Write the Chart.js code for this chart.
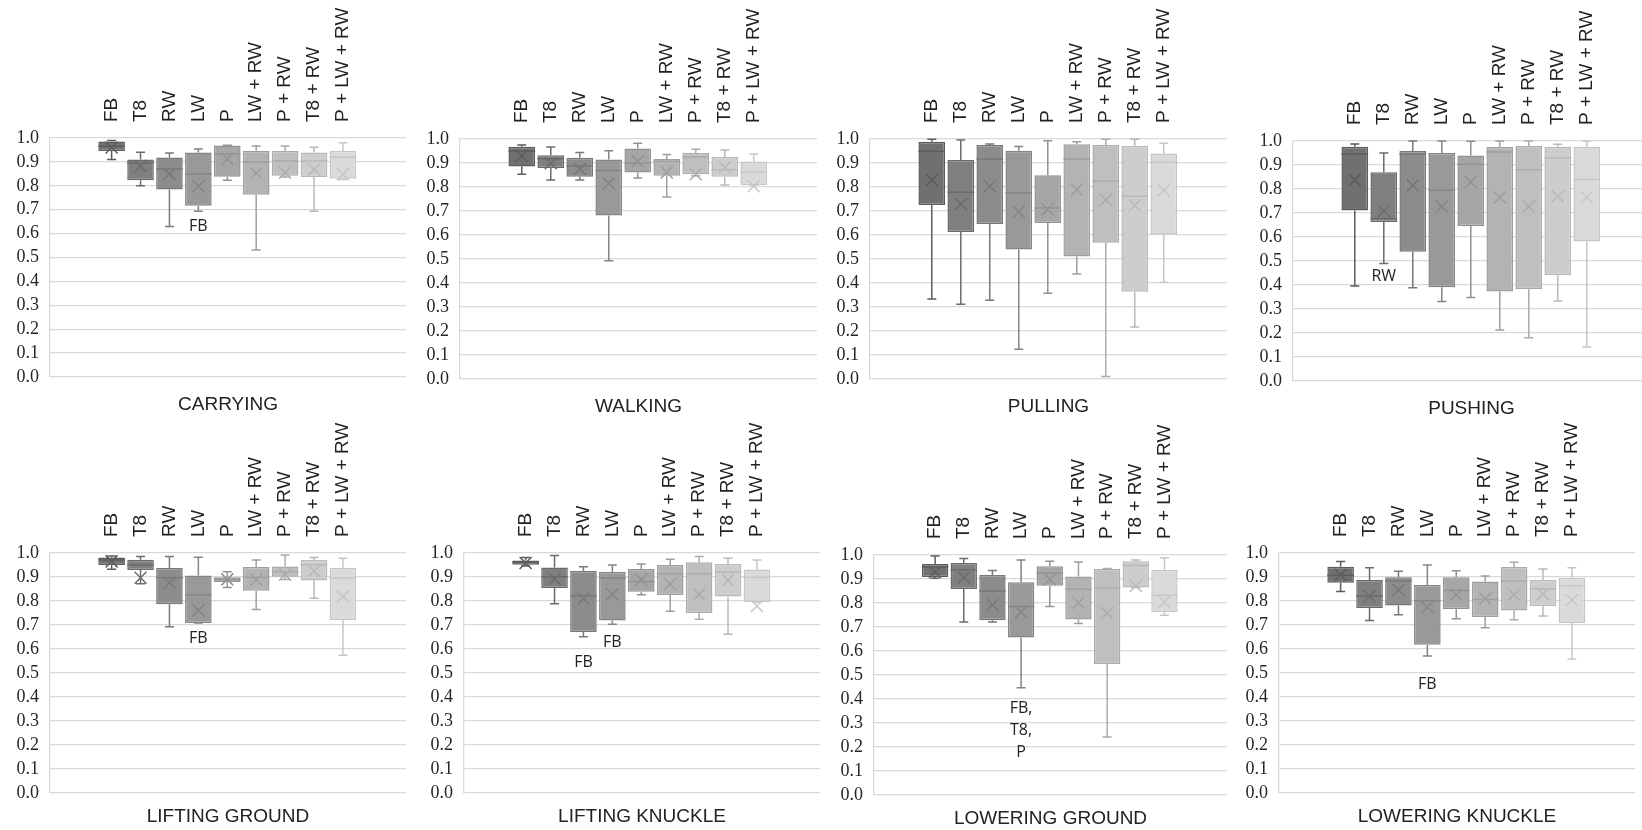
<!DOCTYPE html>
<html>
<head>
<meta charset="utf-8">
<script src="https://cdn.jsdelivr.net/npm/chart.js@4.4.1/dist/chart.umd.min.js"></script>
<style>
  html, body { margin: 0; padding: 0; background: #fff; overflow: hidden; }
  body { width: 1642px; height: 830px; position: relative; }
  canvas { position: absolute; }
</style>
</head>
<body>
<script>
// sensor configurations, one box per configuration
const sensors = ['FB', 'T8', 'RW', 'LW', 'P', 'LW + RW', 'P + RW', 'T8 + RW', 'P + LW + RW'];
const tasks = ['CARRYING', 'WALKING', 'PULLING', 'PUSHING',
  'LIFTING GROUND', 'LIFTING KNUCKLE', 'LOWERING GROUND', 'LOWERING KNUCKLE'];
const yTicks = [0.0, 0.1, 0.2, 0.3, 0.4, 0.5, 0.6, 0.7, 0.8, 0.9, 1.0];

// one row per task, one column per sensor
const whiskerLow = [
  [0.910, 0.800, 0.630, 0.693, 0.823, 0.531, 0.837, 0.693, 0.826],
  [0.853, 0.829, 0.829, 0.493, 0.838, 0.758, 0.847, 0.808, 0.808],
  [0.333, 0.311, 0.328, 0.124, 0.357, 0.437, 0.010, 0.217, 0.403],
  [0.396, 0.490, 0.389, 0.331, 0.348, 0.212, 0.180, 0.333, 0.142],
  [0.932, 0.872, 0.693, 0.708, 0.856, 0.765, 0.890, 0.811, 0.574],
  [0.946, 0.789, 0.651, 0.703, 0.826, 0.757, 0.724, 0.661, 0.796],
  [0.903, 0.721, 0.721, 0.447, 0.785, 0.715, 0.242, 0.865, 0.749],
  [0.840, 0.719, 0.743, 0.571, 0.726, 0.689, 0.722, 0.738, 0.558]
];
const quartile1 = [
  [0.946, 0.823, 0.785, 0.717, 0.838, 0.763, 0.842, 0.837, 0.830],
  [0.885, 0.879, 0.843, 0.681, 0.860, 0.847, 0.853, 0.843, 0.808],
  [0.725, 0.612, 0.646, 0.540, 0.650, 0.510, 0.568, 0.364, 0.603],
  [0.710, 0.663, 0.539, 0.391, 0.646, 0.373, 0.382, 0.441, 0.581],
  [0.950, 0.929, 0.786, 0.708, 0.879, 0.843, 0.901, 0.885, 0.721],
  [0.951, 0.854, 0.671, 0.719, 0.839, 0.825, 0.750, 0.819, 0.796],
  [0.908, 0.858, 0.728, 0.656, 0.872, 0.731, 0.546, 0.865, 0.763],
  [0.876, 0.771, 0.781, 0.618, 0.767, 0.733, 0.760, 0.778, 0.708]
];
const medians = [
  [0.965, 0.895, 0.870, 0.849, 0.933, 0.900, 0.904, 0.904, 0.919],
  [0.950, 0.918, 0.888, 0.869, 0.899, 0.907, 0.925, 0.872, 0.861],
  [0.949, 0.778, 0.917, 0.776, 0.712, 0.917, 0.824, 0.761, 0.903],
  [0.946, 0.677, 0.946, 0.795, 0.903, 0.954, 0.880, 0.929, 0.840],
  [0.971, 0.951, 0.897, 0.826, 0.890, 0.899, 0.922, 0.951, 0.896],
  [0.961, 0.901, 0.822, 0.896, 0.881, 0.914, 0.914, 0.921, 0.899],
  [0.950, 0.939, 0.850, 0.785, 0.924, 0.857, 0.864, 0.956, 0.832],
  [0.907, 0.821, 0.883, 0.801, 0.844, 0.806, 0.882, 0.851, 0.864]
];
const quartile3 = [
  [0.985, 0.910, 0.918, 0.939, 0.969, 0.947, 0.946, 0.939, 0.946],
  [0.968, 0.932, 0.922, 0.915, 0.960, 0.917, 0.942, 0.925, 0.906],
  [0.989, 0.912, 0.975, 0.951, 0.849, 0.978, 0.975, 0.972, 0.940],
  [0.976, 0.870, 0.958, 0.950, 0.940, 0.975, 0.979, 0.976, 0.975],
  [0.981, 0.972, 0.938, 0.906, 0.899, 0.942, 0.944, 0.971, 0.939],
  [0.969, 0.940, 0.925, 0.921, 0.933, 0.950, 0.961, 0.954, 0.931],
  [0.963, 0.967, 0.917, 0.886, 0.953, 0.910, 0.942, 0.974, 0.939],
  [0.943, 0.888, 0.899, 0.867, 0.899, 0.881, 0.942, 0.888, 0.897]
];
const whiskerHigh = [
  [0.990, 0.940, 0.937, 0.954, 0.970, 0.967, 0.967, 0.961, 0.980],
  [0.975, 0.967, 0.944, 0.951, 0.982, 0.935, 0.957, 0.954, 0.937],
  [0.999, 0.996, 0.979, 0.969, 0.993, 0.989, 0.999, 0.999, 0.982],
  [0.987, 0.950, 1.000, 1.000, 0.999, 1.000, 1.000, 0.986, 1.000],
  [0.988, 0.985, 0.985, 0.982, 0.922, 0.971, 0.992, 0.981, 0.978],
  [0.981, 0.990, 0.943, 0.950, 0.954, 0.974, 0.985, 0.978, 0.971],
  [0.996, 0.985, 0.935, 0.979, 0.974, 0.971, 0.944, 0.979, 0.989],
  [0.965, 0.939, 0.924, 0.950, 0.926, 0.904, 0.961, 0.933, 0.939]
];
const means = [
  [0.960, 0.883, 0.850, 0.798, 0.912, 0.853, 0.856, 0.867, 0.848],
  [0.930, 0.899, 0.875, 0.815, 0.907, 0.861, 0.853, 0.881, 0.803],
  [0.829, 0.728, 0.803, 0.697, 0.707, 0.789, 0.747, 0.724, 0.786],
  [0.838, 0.708, 0.815, 0.727, 0.829, 0.765, 0.727, 0.769, 0.766],
  [0.965, 0.897, 0.876, 0.761, 0.890, 0.888, 0.910, 0.925, 0.819],
  [0.958, 0.893, 0.810, 0.828, 0.889, 0.871, 0.828, 0.886, 0.779],
  [0.929, 0.906, 0.793, 0.763, 0.899, 0.801, 0.758, 0.872, 0.804],
  [0.908, 0.819, 0.846, 0.774, 0.826, 0.810, 0.826, 0.829, 0.804]
];

// significance notes written under some boxes
const noteTask = [0, 3, 4, 5, 5, 6, 7];
const noteSensor = [3, 1, 3, 2, 3, 3, 3];
const noteValue = [0.630, 0.435, 0.643, 0.543, 0.629, 0.360, 0.451];
const noteText = [['FB'], ['RW'], ['FB'], ['FB'], ['FB'], ['FB,', 'T8,', 'P'], ['FB']];

// look of the panels
const fills = ['#707070', '#7f7f7f', '#8c8c8c', '#999999', '#a6a6a6', '#b3b3b3', '#bfbfbf', '#cdcdcd', '#dadada'];
const edges = ['#5c5c5c', '#6b6b6b', '#787878', '#858585', '#929292', '#9f9f9f', '#ababab', '#b9b9b9', '#c6c6c6'];
// plot area of each panel on the page: left, right, top, bottom
const frames = [
  [50, 406, 138, 377], [460, 817, 139, 379], [870, 1227, 139, 379], [1293, 1650, 141, 381],
  [50, 406, 553, 793], [464, 820, 553, 793], [874, 1227, 555, 795], [1279, 1635, 553, 793]
];
const titleGap = [28, 28, 28, 28, 24, 24, 24, 24];
const gridColor = '#d9d9d9';
const textColor = '#222222';

const boxExtras = {
  id: 'boxExtras',
  afterDatasetsDraw(chart, args, opts) {
    const p = opts.panel;
    const ctx = chart.ctx;
    const xs = chart.scales.x, ys = chart.scales.y;
    const bars = chart.getDatasetMeta(0).data;
    ctx.save();
    ctx.lineWidth = 1.5;
    sensors.forEach((s, i) => {
      const x = xs.getPixelForValue(i);
      const half = bars[i].width / 2;
      const yMin = ys.getPixelForValue(whiskerLow[p][i]);
      const yMax = ys.getPixelForValue(whiskerHigh[p][i]);
      const yQ1 = ys.getPixelForValue(quartile1[p][i]);
      const yQ3 = ys.getPixelForValue(quartile3[p][i]);
      const yMed = ys.getPixelForValue(medians[p][i]);
      const yMean = ys.getPixelForValue(means[p][i]);
      ctx.strokeStyle = edges[i];
      ctx.beginPath();
      // whiskers with caps
      ctx.moveTo(x, yQ3); ctx.lineTo(x, yMax);
      ctx.moveTo(x - 4.5, yMax); ctx.lineTo(x + 4.5, yMax);
      ctx.moveTo(x, yQ1); ctx.lineTo(x, yMin);
      ctx.moveTo(x - 4.5, yMin); ctx.lineTo(x + 4.5, yMin);
      // median
      ctx.moveTo(x - half, yMed); ctx.lineTo(x + half, yMed);
      ctx.stroke();
      // mean marker
      const m = 6;
      ctx.beginPath();
      ctx.moveTo(x - m, yMean - m); ctx.lineTo(x + m, yMean + m);
      ctx.moveTo(x - m, yMean + m); ctx.lineTo(x + m, yMean - m);
      ctx.stroke();
    });

    // sensor names standing above the plot
    ctx.fillStyle = textColor;
    ctx.font = '19px "Liberation Sans", Arial, sans-serif';
    ctx.textAlign = 'left';
    ctx.textBaseline = 'middle';
    sensors.forEach((s, i) => {
      ctx.save();
      ctx.translate(xs.getPixelForValue(i), chart.chartArea.top - 16);
      ctx.rotate(-Math.PI / 2);
      ctx.fillText(s, 0, 0);
      ctx.restore();
    });

    // task name under the plot
    ctx.font = '19px "Liberation Sans", Arial, sans-serif';
    ctx.textAlign = 'center';
    ctx.fillText(tasks[p], (chart.chartArea.left + chart.chartArea.right) / 2,
      chart.chartArea.bottom + titleGap[p]);

    // notes
    ctx.font = '16px "Open Sans", sans-serif';
    noteTask.forEach((t, k) => {
      if (t !== p) return;
      const nx = xs.getPixelForValue(noteSensor[k]);
      const ny = ys.getPixelForValue(noteValue[k]);
      noteText[k].forEach((line, j) => ctx.fillText(line, nx, ny + j * 22));
    });
    ctx.restore();
  }
};

tasks.forEach((task, p) => {
  const [l, r, t, b] = frames[p];
  const canvas = document.createElement('canvas');
  canvas.width = r - l + 54;
  canvas.height = b - t + 138 + 45;
  canvas.style.left = (l - 50) + 'px';
  canvas.style.top = (t - 138) + 'px';
  canvas.style.width = canvas.width + 'px';
  canvas.style.height = canvas.height + 'px';
  document.body.appendChild(canvas);

  new Chart(canvas.getContext('2d'), {
    type: 'bar',
    data: {
      datasets: [{
        data: sensors.map((s, i) => ({ x: i, y: [quartile1[p][i], quartile3[p][i]] })),
        backgroundColor: fills,
        borderColor: edges,
        borderWidth: 1.5,
        borderSkipped: false,
        barPercentage: 0.92,
        categoryPercentage: 1
      }]
    },
    options: {
      responsive: false,
      animation: false,
      devicePixelRatio: 1,
      layout: { padding: { top: 138, right: 4, bottom: 45, left: 0 } },
      plugins: {
        legend: { display: false },
        tooltip: { enabled: false },
        boxExtras: { panel: p }
      },
      scales: {
        x: {
          type: 'linear',
          display: false,
          min: -0.9,
          max: 8.95
        },
        y: {
          min: 0,
          max: 1,
          afterBuildTicks: axis => { axis.ticks = yTicks.map(v => ({ value: v })); },
          afterFit: axis => { axis.width = 50; },
          grid: { color: gridColor, lineWidth: 1.3, drawTicks: false },
          border: { display: true, color: gridColor, width: 1.3 },
          ticks: {
            autoSkip: false,
            padding: 11,
            color: '#262626',
            font: { family: '"Liberation Serif", "Times New Roman", serif', size: 18 },
            callback: v => Number(v).toFixed(1)
          }
        }
      }
    },
    plugins: [boxExtras]
  });
});
</script>
</body>
</html>
